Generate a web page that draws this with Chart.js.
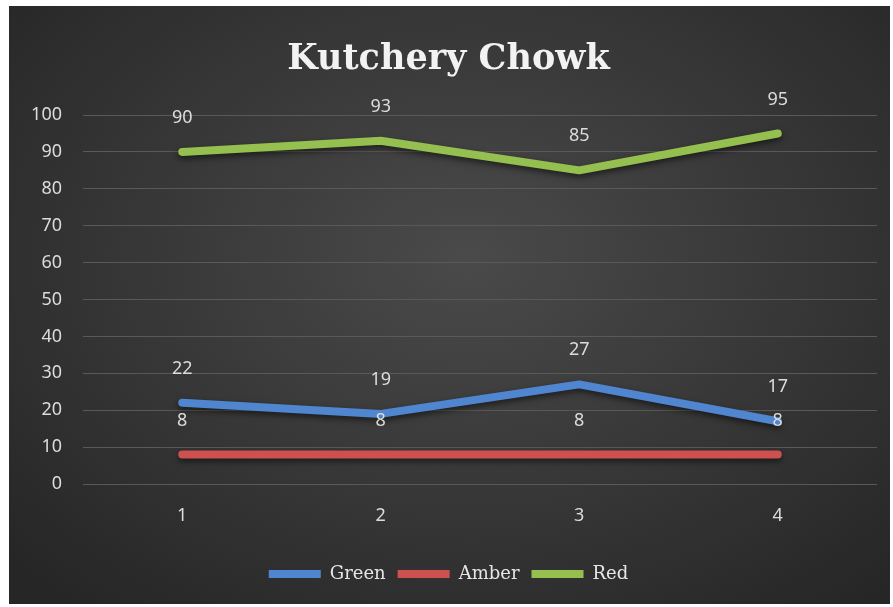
<!DOCTYPE html>
<html>
<head>
<meta charset="utf-8">
<script src="https://cdn.jsdelivr.net/npm/chart.js@4"></script>
<style>
  html, body { margin: 0; padding: 0; background: #fff; }
  #wrap { position: relative; width: 893px; height: 607px; }
  #bg {
    position: absolute; left: 9px; top: 6px; width: 881px; height: 598px;
    background: radial-gradient(ellipse 70% 75% at 52% 42%, #4a4a4a 0%, #3a3a3a 45%, #262626 100%);
  }
  #chart { position: absolute; left: 0; top: 0; }
</style>
</head>
<body>
<div id="wrap">
  <div id="bg"></div>
  <canvas id="chart" width="893" height="607"></canvas>
</div>
<script>
// ── Datos ────────────────────────────────────────────
const categorias = ['1', '2', '3', '4'];
const serieGreen = [22, 19, 27, 17];
const serieAmber = [8, 8, 8, 8];
const serieRed = [90, 93, 85, 95];
const ticksY = [0, 10, 20, 30, 40, 50, 60, 70, 80, 90, 100];

const colGreen = '#4f86cf';
const colAmber = '#cf514f';
const colRed = '#95c04f';

// ── Sombra de las líneas ─────────────────────────────
const sombraLineas = {
  id: 'sombraLineas',
  beforeDatasetDraw(chart) {
    const ctx = chart.ctx;
    ctx.save();
    ctx.shadowColor = 'rgba(0,0,0,0.55)';
    ctx.shadowBlur = 6;
    ctx.shadowOffsetY = 3;
  },
  afterDatasetDraw(chart) {
    chart.ctx.restore();
  }
};

// ── Etiquetas de valores ─────────────────────────────
const etiquetasValores = {
  id: 'etiquetasValores',
  afterDatasetsDraw(chart) {
    const ctx = chart.ctx;
    ctx.save();
    ctx.font = '18px "Noto Sans"';
    ctx.fillStyle = '#dcdcdc';
    ctx.textAlign = 'center';
    ctx.textBaseline = 'middle';
    chart.data.datasets.forEach((ds, i) => {
      chart.getDatasetMeta(i).data.forEach((pt, j) => {
        ctx.fillText(ds.data[j], pt.x, pt.y - 34);
      });
    });
    ctx.restore();
  }
};

const linea = (label, data, color) => ({
  label, data,
  borderColor: color, backgroundColor: color,
  borderWidth: 8, borderCapStyle: 'round', borderJoinStyle: 'round',
  pointRadius: 0, tension: 0
});

new Chart(document.getElementById('chart'), {
  type: 'line',
  data: {
    labels: categorias,
    datasets: [
      linea('Green', serieGreen, colGreen),
      linea('Amber', serieAmber, colAmber),
      linea('Red', serieRed, colRed)
    ]
  },
  options: {
    responsive: false, animation: false,
    layout: { padding: { left: 20, right: 16, top: 0, bottom: 14 } },
    plugins: {
      title: {
        display: true, text: 'Kutchery Chowk', color: '#f2f2f2',
        font: { family: '"DejaVu Serif"', size: 35, weight: 'bold' },
        padding: { top: 39, bottom: 34 }
      },
      legend: {
        position: 'bottom',
        labels: {
          color: '#e6e6e6',
          font: { family: '"DejaVu Serif"', size: 18 },
          usePointStyle: true, pointStyle: 'line', pointStyleWidth: 52,
          padding: 12
        }
      },
      tooltip: { enabled: false }
    },
    scales: {
      x: {
        offset: true,
        grid: { display: false, drawTicks: false },
        border: { display: false },
        ticks: { color: '#dcdcdc', font: { family: '"Noto Sans"', size: 18 }, padding: 21 },
        afterFit: s => { s.height = 69; }
      },
      y: {
        min: 0, max: 100,
        afterBuildTicks: s => { s.ticks = ticksY.map(v => ({ value: v })); },
        grid: { color: '#595959', lineWidth: 1, drawTicks: false },
        border: { display: false },
        ticks: { color: '#dcdcdc', font: { family: '"Noto Sans"', size: 18 }, padding: 21 },
        afterFit: s => { s.width = 63; }
      }
    }
  },
  plugins: [sombraLineas, etiquetasValores]
});
</script>
</body>
</html>
